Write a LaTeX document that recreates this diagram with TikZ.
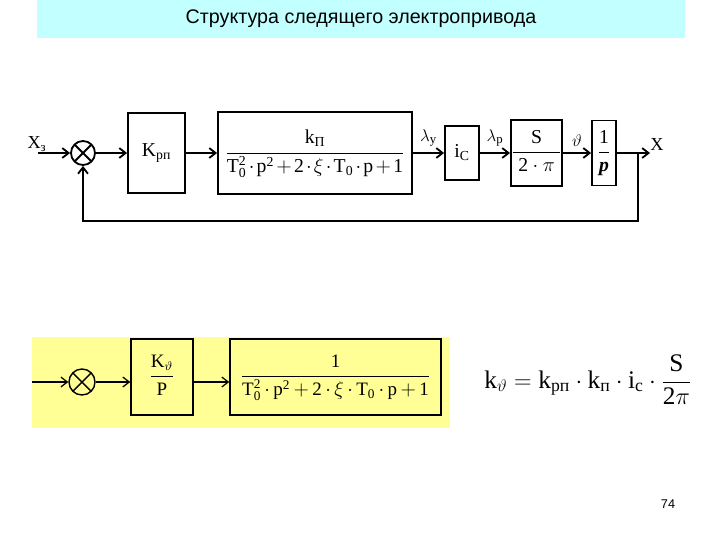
\documentclass[tikz,border=0pt]{standalone}
\usepackage{amsmath}
\usepackage{fontspec}
\setmainfont{Liberation Serif}
\newfontfamily\titlefont{Liberation Sans}
\usepackage{xcolor}
\definecolor{titleBg}{HTML}{C2FFFF}
\definecolor{noteBg}{HTML}{FFFF96}
\usetikzlibrary{arrows.meta}
\newdimen\pxu \pxu=0.025cm

\begin{document}
\begin{tikzpicture}[x=0.025cm, y=-0.025cm,
  blk/.style={draw, line width=1.3pt, inner sep=0pt, font=\fontsize{14}{16}\selectfont},
  blkb/.style={draw, line width=1.1pt, inner sep=0pt, font=\fontsize{13.5}{16}\selectfont},
  sumnode/.style={circle, draw, line width=1.3pt, minimum size=24\pxu, inner sep=0pt,
    path picture={\draw (path picture bounding box.north west) -- (path picture bounding box.south east)
      (path picture bounding box.north east) -- (path picture bounding box.south west);}},
  sig/.style={line width=1.3pt, -{Straight Barb[length=4.5pt,width=7pt]}},
  sigb/.style={line width=0.9pt, -{Straight Barb[length=4.5pt,width=7pt]}},
  lbl/.style={font=\fontsize{13}{15}\selectfont, inner sep=0pt},
]
\useasboundingbox (0,0) rectangle (720,540);
% title
\fill[titleBg] (37,0) rectangle (685,38);
\node[font=\titlefont\fontsize{14}{16}\selectfont] (title) at (361,19) {Структура следящего электропривода};

% upper loop
\coordinate (in) at (38,153);
\node[lbl] (xz) at (37,144) {X$_{\text{з}}$};
\node[sumnode] (sum) at (83,153) {};
\node[blk, minimum width=57\pxu, minimum height=80\pxu] (krp) at (156.5,153) {K$_{\text{рп}}$};
\node[blk, minimum width=194\pxu, minimum height=82\pxu] (plant) at (315,153)
  {$\medmuskip=2mu\relax\dfrac{\mathrm{k}_{\text{П}}\strut}{\mathrm{T}_{\mathrm{0}}^{\mathrm{2}}\cdot\mathrm{p}^{\mathrm{2}}+\mathrm{2}\cdot\xi\cdot\mathrm{T}_{\mathrm{0}}\cdot\mathrm{p}+\mathrm{1}}$};
\node[blk, minimum width=34\pxu, minimum height=54\pxu] (ic) at (462,153) {i$_{\text{С}}$};
\node[blk, minimum width=45\pxu, minimum height=66\pxu] (sgain) at (536.5,153)
  {$\dfrac{\strut\mathrm{S}}{\strut\;\mathrm{2}\cdot\pi\;}$};
\node[blk, minimum width=24\pxu, minimum height=65\pxu] (integ) at (604,153)
  {$\dfrac{\strut\mathrm{1}}{\strut\text{\textbf{\textit{p}}}}$};
\coordinate (out) at (650,153);
\node[lbl, anchor=west] (xout) at (650,145) {X};
\coordinate (br) at (638,153);

\draw[sig] (in) -- (sum);
\draw[sig] (sum) -- (krp);
\draw[sig] (krp) -- (plant);
\draw[sig] (plant) -- node[lbl, above=4pt] {$\lambda_{\text{у}}$} (ic);
\draw[sig] (ic) -- node[lbl, above=4pt] {$\lambda_{\text{р}}$} (sgain);
\draw[sig] (sgain) -- node[lbl, above=4pt] {$\vartheta$} (integ);
\draw[sig] (integ) -- (out);
\draw[sig] (br) -- ++(0,68) -| (sum);

% lower chain
\fill[noteBg] (32,337) rectangle (450,428);
\coordinate (in2) at (32,382);
\node[sumnode, line width=1pt, minimum size=26\pxu] (sum2) at (82,382) {};
\node[blkb, minimum width=62\pxu, minimum height=76\pxu] (kth) at (162,377)
  {$\dfrac{\strut\mathrm{K}_{\vartheta}}{\strut\mathrm{P}}$};
\node[blkb, minimum width=211\pxu, minimum height=76\pxu] (big) at (335.5,377)
  {$\medmuskip=3mu\relax\dfrac{\strut\mathrm{1}}{\strut\mathrm{T}_{\mathrm{0}}^{\mathrm{2}}\cdot\mathrm{p}^{\mathrm{2}}+\mathrm{2}\cdot\xi\cdot\mathrm{T}_{\mathrm{0}}\cdot\mathrm{p}+\mathrm{1}}$};
\draw[sigb] (in2) -- (sum2);
\draw[sigb] (sum2) -- (sum2 -| kth.west);
\draw[sigb] (kth.east |- sum2) -- (sum2 -| big.west);

% gain
\node[font=\fontsize{18}{22}\selectfont] (kgain) at (588,380)
  {$\mathrm{k}_{\vartheta}=\mathrm{k}_{\text{рп}}\cdot\mathrm{k}_{\text{п}}\cdot\mathrm{i}_{\text{c}}\cdot\dfrac{\mathrm{S}}{\mathrm{2}\pi}$};

\node[font=\titlefont\fontsize{9}{11}\selectfont] (page) at (668,504) {74};
\end{tikzpicture}
\end{document}
